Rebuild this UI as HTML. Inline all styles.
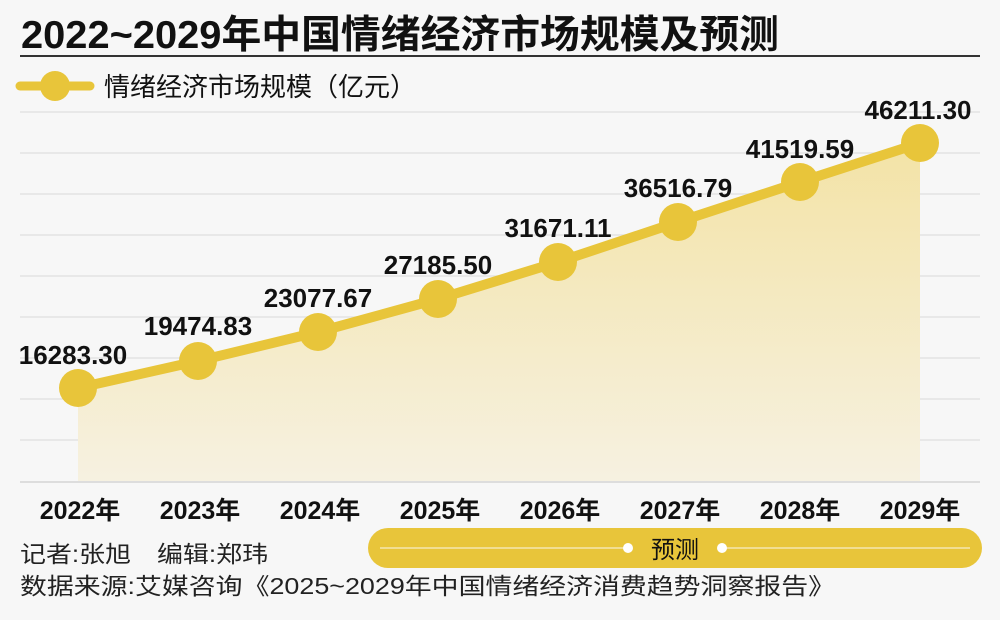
<!DOCTYPE html>
<html><head><meta charset="utf-8"><style>
body{margin:0;background:#f7f7f7;}
svg text{font-family:"Liberation Sans","Noto Sans CJK SC",sans-serif;}
</style></head><body>
<svg width="1000" height="615" viewBox="0 0 1000 615">
<defs><linearGradient id="g" x1="0" y1="0" x2="0" y2="1">
<stop offset="0" stop-color="#f3e3a6"/><stop offset="1" stop-color="#f6f1e1"/></linearGradient></defs>
<rect width="1000" height="615" fill="#f7f7f7"/>
<text x="21" y="48" font-size="39" font-weight="bold" fill="#111" textLength="758" lengthAdjust="spacingAndGlyphs">2022~2029年中国情绪经济市场规模及预测</text>
<rect x="20" y="55" width="960" height="2" fill="#333"/>
<line x1="20" y1="86" x2="90" y2="86" stroke="#e8c53a" stroke-width="9" stroke-linecap="round"/>
<circle cx="55" cy="86" r="15" fill="#e8c53a"/>
<text x="104" y="96" font-size="26" fill="#111">情绪经济市场规模（亿元）</text>
<g stroke="#e3e3e3" stroke-width="1.5">
<line x1="20" y1="112" x2="980" y2="112"/><line x1="20" y1="153" x2="980" y2="153"/>
<line x1="20" y1="194" x2="980" y2="194"/><line x1="20" y1="235" x2="980" y2="235"/>
<line x1="20" y1="276" x2="980" y2="276"/><line x1="20" y1="317" x2="980" y2="317"/>
<line x1="20" y1="358" x2="980" y2="358"/><line x1="20" y1="399" x2="980" y2="399"/>
<line x1="20" y1="440" x2="980" y2="440"/>
</g>
<polygon points="78,388 198,361 318,332 438,299 558,262 678,222 800,182 920,143 920,482 78,482" fill="url(#g)"/>
<line x1="20" y1="482" x2="980" y2="482" stroke="#ddd" stroke-width="2"/>
<polyline points="78,388 198,361 318,332 438,299 558,262 678,222 800,182 920,143" fill="none" stroke="#e8c53a" stroke-width="10" stroke-linejoin="round"/>
<g fill="#e8c53a">
<circle cx="78" cy="388" r="19"/><circle cx="198" cy="361" r="19"/><circle cx="318" cy="332" r="19"/><circle cx="438" cy="299" r="19"/>
<circle cx="558" cy="262" r="19"/><circle cx="678" cy="222" r="19"/><circle cx="800" cy="182" r="19"/><circle cx="920" cy="143" r="19"/>
</g>
<g font-size="26" font-weight="bold" fill="#111" text-anchor="middle">
<text x="73" y="364">16283.30</text><text x="198" y="335">19474.83</text><text x="318" y="307">23077.67</text>
<text x="438" y="274">27185.50</text><text x="558" y="237">31671.11</text><text x="678" y="197">36516.79</text>
<text x="800" y="158">41519.59</text><text x="918" y="119">46211.30</text>
</g>
<g font-size="25" font-weight="bold" fill="#111" text-anchor="middle">
<text x="80" y="519">2022年</text><text x="200" y="519">2023年</text><text x="320" y="519">2024年</text><text x="440" y="519">2025年</text>
<text x="560" y="519">2026年</text><text x="680" y="519">2027年</text><text x="800" y="519">2028年</text><text x="920" y="519">2029年</text>
</g>
<rect x="368" y="528" width="614" height="40" rx="20" fill="#e8c53a"/>
<line x1="380" y1="548" x2="970" y2="548" stroke="#f4e7b0" stroke-width="1.5"/>
<rect x="626" y="533" width="98" height="30" fill="#e8c53a"/>
<circle cx="628" cy="548" r="5" fill="#fff"/><circle cx="722" cy="548" r="5" fill="#fff"/>
<text x="675" y="558" font-size="24" fill="#111" text-anchor="middle">预测</text>
<text x="20" y="562" font-size="23" fill="#222" textLength="248" lengthAdjust="spacingAndGlyphs">记者:张旭　编辑:郑玮</text>
<text x="20" y="594" font-size="23" fill="#222" textLength="815" lengthAdjust="spacingAndGlyphs">数据来源:艾媒咨询《2025~2029年中国情绪经济消费趋势洞察报告》</text>
</svg>
</body></html>
